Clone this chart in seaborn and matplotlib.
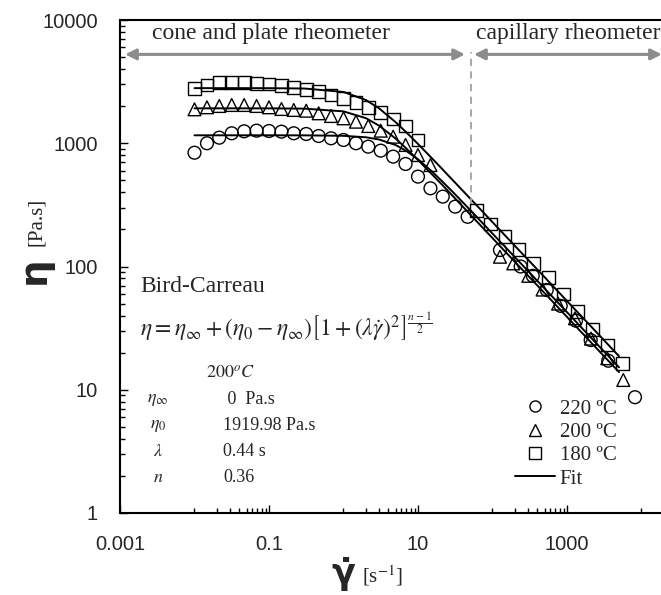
import numpy as np
import pandas as pd
import matplotlib
matplotlib.use("Agg")
import matplotlib.pyplot as plt
import seaborn as sns
from matplotlib.lines import Line2D
from matplotlib.ticker import FixedLocator, FixedFormatter, NullFormatter

# ---------------- data ----------------
temps = ["220 ºC", "200 ºC", "180 ºC"]
markers = ["o", "^", "s"]

# cone and plate rheometer
cp_rate_220 = [0.01, 0.0147, 0.0215, 0.0316, 0.0464, 0.0681, 0.1, 0.147, 0.215, 0.316, 0.464, 0.681,
               1.0, 1.47, 2.15, 3.16, 4.64, 6.81, 10.0, 14.7, 21.5, 31.6, 46.4]
cp_eta_220 = [838, 1000, 1110, 1205, 1250, 1265, 1257, 1242, 1205, 1189, 1145, 1097,
              1063, 1000, 938, 871, 779, 679, 536, 431, 369, 306, 253]
cp_rate_200 = [0.01, 0.0147, 0.0215, 0.0316, 0.0464, 0.0681, 0.1, 0.147, 0.215, 0.316, 0.464, 0.681,
               1.0, 1.47, 2.15, 3.16, 4.64, 6.81, 10.0, 14.7]
cp_eta_200 = [1885, 1958, 2006, 2044, 2044, 2006, 1958, 1897, 1863, 1837, 1750, 1664,
              1593, 1496, 1380, 1265, 1130, 968, 802, 665]
cp_rate_180 = [0.01, 0.0147, 0.0215, 0.0316, 0.0464, 0.0681, 0.1, 0.147, 0.215, 0.316, 0.464, 0.681,
               1.0, 1.47, 2.15, 3.16, 4.64, 6.81, 10.0]
cp_eta_180 = [2790, 2970, 3100, 3125, 3100, 3070, 3025, 2930, 2845, 2740, 2620, 2460,
              2315, 2133, 1943, 1771, 1574, 1380, 1063]

# capillary rheometer
cap_rate_220 = [126, 239, 347, 535, 824, 1322, 2080, 3580, 8180]
cap_eta_220 = [136, 100, 84, 64.5, 47.9, 36.3, 25.3, 17.2, 8.7]
cap_rate_200 = [126, 190, 303, 470, 760, 1280, 2100, 3475, 5700]
cap_eta_200 = [120, 106, 84, 65, 50, 38, 26, 18, 12]
cap_rate_180 = [61.4, 94.6, 147, 227, 353, 561, 891, 1374, 2213, 3475, 5600]
cap_eta_180 = [284, 221, 175, 138, 106, 81.7, 59.8, 43, 30.9, 23.1, 16.4]

# Bird-Carreau fit curves
fit_rate = [0.01, 0.03, 0.1, 0.3, 1, 2, 3, 5, 7, 10, 15, 20, 30, 50, 100, 200, 500, 1000, 2000, 5000]
fit_220 = [1160, 1160, 1160, 1159, 1149, 1118, 1073, 968, 865, 741, 599, 507, 397, 288, 185, 119, 66.3, 42.6, 27.3, 15.2]
fit_200 = [1920, 1920, 1919, 1909, 1814, 1598, 1390, 1092, 905, 732, 569, 476, 368, 265, 170, 109, 60.9, 39.0, 25.0, 13.9]
fit_180 = [2800, 2800, 2798, 2780, 2607, 2243, 1920, 1485, 1224, 987, 767, 640, 494, 357, 229, 147, 82, 52.5, 33.7, 18.7]

param_symbols = [r"$\eta_{\infty}$", r"$\eta_0$", r"$\lambda$", r"$n$"]
param_values = [" 0  Pa.s", "1919.98 Pa.s", "0.44 s", "0.36"]

x_major = [1e-3, 1e-1, 1e1, 1e3]
x_labels = ["0.001", "0.1", "10", "1000"]
y_major = [1, 10, 100, 1000, 10000]
y_labels = ["1", "10", "100", "1000", "10000"]

# ---------------- style ----------------
sns.set_style("ticks")
plt.rcParams["font.family"] = ["Liberation Serif", "DejaVu Sans"]
plt.rcParams["mathtext.fontset"] = "stix"

W, H = 661, 595
fig = plt.figure(figsize=(W / 100, H / 100), dpi=100)
ax_l, ax_b, ax_t = 120 / W, 1 - 513 / H, 1 - 20 / H
ax = fig.add_axes([ax_l, ax_b, 1 - ax_l, ax_t - ax_b])

rows = []
for t, r, e in [(temps[0], cp_rate_220 + cap_rate_220, cp_eta_220 + cap_eta_220),
                (temps[1], cp_rate_200 + cap_rate_200, cp_eta_200 + cap_eta_200),
                (temps[2], cp_rate_180 + cap_rate_180, cp_eta_180 + cap_eta_180)]:
    rows.append(pd.DataFrame({"rate": r, "eta": e, "temp": t}))
df = pd.concat(rows, ignore_index=True)

fits = pd.DataFrame({"rate": fit_rate * 3,
                     "eta": fit_220 + fit_200 + fit_180,
                     "temp": [temps[0]] * len(fit_rate) + [temps[1]] * len(fit_rate) + [temps[2]] * len(fit_rate)})

for t in temps:
    sub = fits[fits.temp == t]
    sns.lineplot(data=sub, x="rate", y="eta", color="black", lw=1.4, ax=ax, legend=False, sort=True)

for t, m in zip(temps, markers):
    sub = df[df.temp == t]
    sns.scatterplot(data=sub, x="rate", y="eta", marker=m, s=85, facecolor="none",
                    edgecolor="black", linewidth=1.0, ax=ax, legend=False, zorder=3)

ax.set_xscale("log")
ax.set_yscale("log")
ax.set_xlim(1e-3, 10 ** 4.262)
ax.set_ylim(1, 1e4)

ax.xaxis.set_major_locator(FixedLocator(x_major))
ax.xaxis.set_major_formatter(FixedFormatter(x_labels))
ax.xaxis.set_minor_locator(FixedLocator([k * 10.0 ** e for e in (-2, 0, 2, 4) for k in range(1, 10)]))
ax.xaxis.set_minor_formatter(NullFormatter())
ax.yaxis.set_major_locator(FixedLocator(y_major))
ax.yaxis.set_major_formatter(FixedFormatter(y_labels))
ax.yaxis.set_minor_locator(FixedLocator([k * 10.0 ** e for e in range(0, 4) for k in range(2, 10)]))
ax.yaxis.set_minor_formatter(NullFormatter())

ax.tick_params(which="both", direction="in", color="black", width=1.0,
               top=False, right=False)
ax.tick_params(which="major", length=5.5, pad=16, labelsize=14.5)
ax.tick_params(which="minor", length=3.5)
for lab in ax.get_xticklabels() + ax.get_yticklabels():
    lab.set_fontfamily("Liberation Sans")
ax.set_xlabel("")
ax.set_ylabel("")

for s in ["left", "bottom", "top"]:
    ax.spines[s].set_linewidth(1.5)
    ax.spines[s].set_color("black")
ax.spines["right"].set_visible(False)

# region arrows and divider
arrow_kw = dict(arrowstyle="<|-|>", color="#8c8c8c", lw=2.2, mutation_scale=16, shrinkA=0, shrinkB=0)
ax.annotate("", xy=(42.8, 5260), xytext=(0.00117, 5260), arrowprops=arrow_kw, annotation_clip=False)
ax.annotate("", xy=(18800, 5260), xytext=(56.5, 5260), arrowprops=arrow_kw, annotation_clip=False)
ax.plot([51, 51], [316, 5500], ls=(0, (4, 3)), color="#a0a0a0", lw=1.3)
ax.text(0.106, 7065, "cone and plate rheometer", ha="center", va="baseline", fontsize=17)
ax.text(60.1, 7065, "capillary rheometer", ha="left", va="baseline", fontsize=17, clip_on=False)

# model text
fig.text(140 / W, 1 - 292 / H, "Bird-Carreau", ha="left", va="baseline", fontsize=17)
fig.text(140 / W, 1 - 336 / H,
         r"$\eta=\eta_{\infty}+\left(\eta_0-\eta_{\infty}\right)\left[1+\left(\lambda\dot{\gamma}\right)^2\right]^{\frac{n-1}{2}}$",
         ha="left", va="baseline", fontsize=17)
fig.text(230 / W, 1 - 373 / H, r"$\mathrm{200}^{o}C$", ha="center", va="center", fontsize=13)
for i, (sym, val) in enumerate(zip(param_symbols, param_values)):
    y = 1 - (400 + 26 * i) / H
    fig.text(158 / W, y, sym, ha="center", va="center", fontsize=13)
    fig.text(223 / W, y, val, ha="left", va="center", fontsize=13)

# legend
handles = [Line2D([], [], marker=m, ls="none", mfc="none", mec="black", ms=8, mew=1.0) for m in markers]
handles.append(Line2D([], [], color="black", lw=1.4))
fig.legend(handles, temps + ["Fit"], loc="upper left", bbox_to_anchor=(515 / W, 1 - 399 / H),
           frameon=False, fontsize=15, handlelength=1.9, handletextpad=0.25, labelspacing=0.18,
           borderpad=0, borderaxespad=0)

# axis labels
fig.text(34 / W, 1 - 270 / H, "η", rotation=90, ha="center", va="center", fontsize=28,
         fontweight="bold", family="DejaVu Sans")
fig.text(37 / W, 1 - 222 / H, "[Pa.s]", rotation=90, ha="center", va="center", fontsize=15)
fig.text(343 / W, 1 - 584 / H, "γ\u0307", ha="center", va="baseline", fontsize=25,
         fontweight="bold", family="DejaVu Sans")
fig.text(362 / W, 1 - 583 / H, r"[s$^{\mathrm{-1}}$]", ha="left", va="baseline", fontsize=15)

fig.savefig("out.png", dpi=100)
